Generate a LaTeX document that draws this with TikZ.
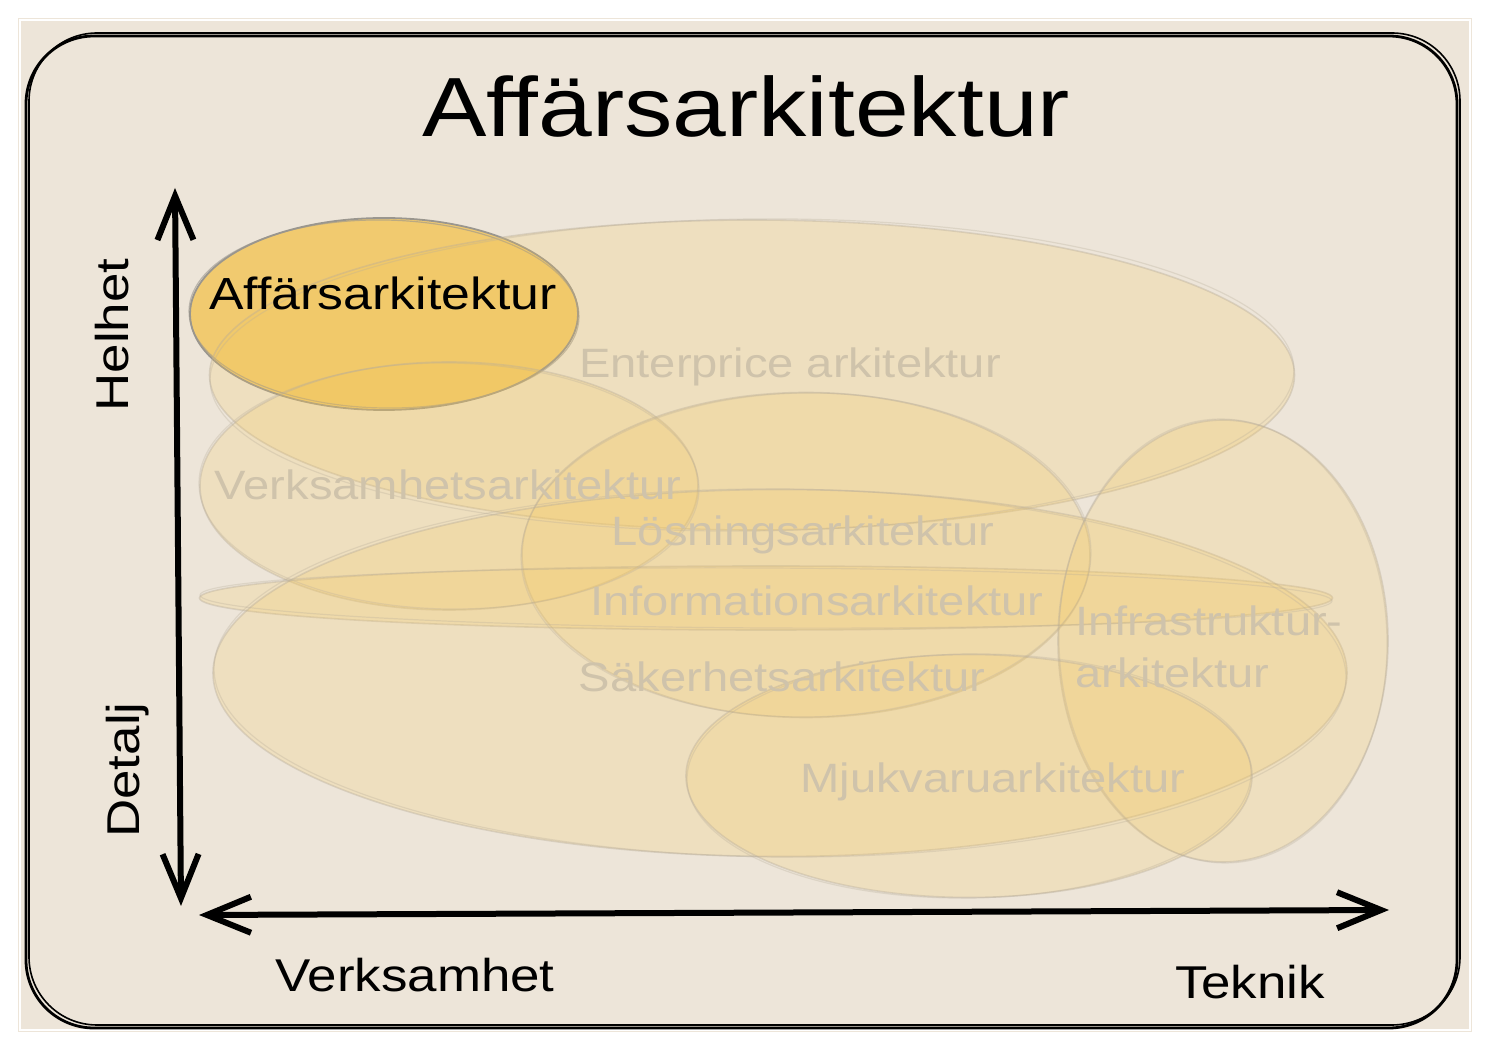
\documentclass[tikz,border=0pt]{standalone}
\usepackage{fontspec}
\setmainfont{Liberation Sans}[FakeStretch=1.15]
\usetikzlibrary{shapes.geometric,arrows.meta}
\definecolor{bg}{HTML}{EDE5D9}
\definecolor{areafill}{HTML}{F5C75A}
\definecolor{arealine}{HTML}{B8AD9A}
\definecolor{fadetext}{HTML}{CFC3AB}
\definecolor{hifill}{HTML}{F2C96A}
\definecolor{hiline}{HTML}{9A968E}
\begin{document}
\begin{tikzpicture}[x=0.5pt,y=-0.5pt,
  area/.style={ellipse, fill=areafill, fill opacity=0.2, draw=arealine, draw opacity=0.4, line width=0.8pt, inner sep=0pt},
  areasketch/.style={draw=arealine, draw opacity=0.3, line width=0.6pt},
  hiarea/.style={ellipse, fill=hifill, fill opacity=0.95, draw=hiline, line width=0.9pt, inner sep=0pt},
  fadelbl/.style={text=fadetext, font=\fontsize{20.5}{26}\selectfont, inner sep=0pt},
  hilbl/.style={text=black, font=\fontsize{22.5}{27}\selectfont, inner sep=0pt},
  axislbl/.style={text=black, font=\fontsize{23}{28}\selectfont, inner sep=0pt},
  titlelbl/.style={text=black, font=\fontsize{42}{49}\selectfont, inner sep=0pt},
  axisline/.style={line width=3pt, line cap=round, line join=round,
    {Straight Barb[length=22pt, width=18pt, line width=3pt]}-{Straight Barb[length=22pt, width=18pt, line width=3pt]}},
  framestroke/.style={line width=1.4pt, rounded corners=34pt}
]
\useasboundingbox (0,0) rectangle (1490,1052);
\fill[white] (0,0) rectangle (1490,1052);
\fill[bg] (18,18) rectangle (1472,1032);
\draw[white, line width=0.6pt] (20,20) rectangle (1470,1030);

% frame
\draw[framestroke] (26,36) rectangle (1457,1028);
\draw[framestroke, line width=0.8pt] (29,33) rectangle (1460,1025);

% highlighted area
\node[hiarea, minimum width=194pt, minimum height=96pt] (affar) at (384,314) {};
\draw[areasketch, draw=hiline, draw opacity=0.6] (affar.center) ellipse [x radius=97.5pt, y radius=47pt, rotate=-1];

% faint areas
\node[area, minimum width=542.5pt, minimum height=155pt] (ent) at (752,375) {};
\node[area, minimum width=249pt, minimum height=124pt] (verk) at (449,486) {};
\node[area, minimum width=284pt, minimum height=162.5pt] (losn) at (806,555) {};
\node[area, minimum width=566.5pt, minimum height=32pt] (info) at (766,598) {};
\node[area, minimum width=567pt, minimum height=183.5pt] (sak) at (780,673) {};
\node[area, minimum width=165pt, minimum height=221pt] (infra) at (1223,641) {};
\node[area, minimum width=283pt, minimum height=121.5pt] (mjuk) at (969,776) {};

\draw[areasketch] (ent.center) ellipse [x radius=271pt, y radius=78pt, rotate=0.6];
\draw[areasketch] (verk.center) ellipse [x radius=125pt, y radius=61.5pt, rotate=-0.8];
\draw[areasketch] (losn.center) ellipse [x radius=142.5pt, y radius=81pt, rotate=0.7];
\draw[areasketch] (info.center) ellipse [x radius=283pt, y radius=15pt, rotate=-0.3];
\draw[areasketch] (sak.center) ellipse [x radius=283pt, y radius=92pt, rotate=-0.5];
\draw[areasketch] (infra.center) ellipse [x radius=82pt, y radius=111pt, rotate=1.2];
\draw[areasketch] (mjuk.center) ellipse [x radius=141pt, y radius=61pt, rotate=0.8];

% labels
\node[titlelbl] (title) at (746,106) {Affärsarkitektur};
\node[fadelbl] (entl) at (790,367) {Enterprice arkitektur};
\node[fadelbl] (verkl) at (448,485) {Verksamhetsarkitektur};
\node[fadelbl] (losnl) at (803,535) {Lösningsarkitektur};
\node[fadelbl] (infol) at (817,601) {Informationsarkitektur};
\node[fadelbl] (sakl) at (782,677) {Säkerhetsarkitektur};
\node[fadelbl, align=left, anchor=west] (infral) at (1075,647) {Infrastruktur-\\arkitektur};
\node[fadelbl] (mjukl) at (993,782) {Mjukvaruarkitektur};
\node[hilbl] (affarl) at (383,293) {Affärsarkitektur};

% axes
\coordinate (ytop) at (175,188);
\coordinate (ybot) at (181,906);
\coordinate (xleft) at (199,915);
\coordinate (xright) at (1389,910);
\draw[axisline] (ybot) -- (ytop);
\draw[axisline] (xleft) -- (xright);

\node[axislbl, rotate=90] (helhet) at (112,335) {Helhet};
\node[axislbl, rotate=90] (detalj) at (128,770) {Detalj};
\node[axislbl] (verksamhet) at (415,975) {Verksamhet};
\node[axislbl] (teknik) at (1250,982) {Teknik};
\end{tikzpicture}
\end{document}
